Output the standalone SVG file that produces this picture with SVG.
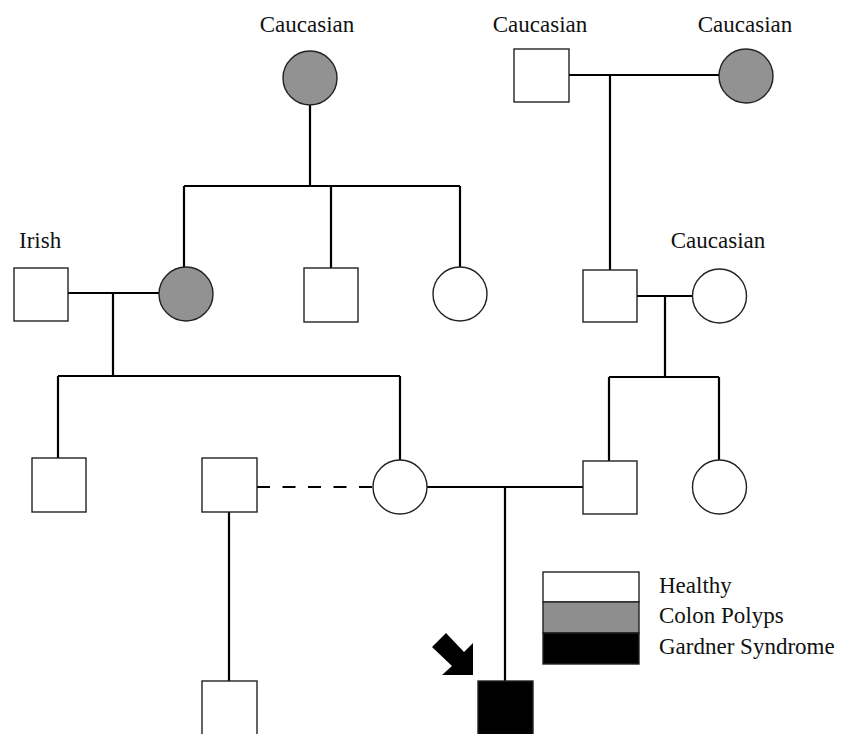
<svg xmlns="http://www.w3.org/2000/svg" width="847" height="734" viewBox="0 0 847 734">
<style>
.m{fill:#fff;stroke:#222;stroke-width:1.4}
.g{fill:#929292}
.k{fill:#000}
.ln{fill:none;stroke:#000;stroke-width:2.2}
.dash{stroke-dasharray:13 12.5}
text{font-family:"Liberation Serif","Times New Roman",serif;font-size:23px;fill:#111}
</style>
<rect width="847" height="734" fill="#fff"/>
<g id="connectors">
<path class="ln" d="M310 105V186M184 186H460M184 186V267M331 186V268M460 186V267"/>
<path class="ln" d="M569 75H719M610 75V270"/>
<path class="ln" d="M68 293H159M113 293V376M58 376H400M58 376V458M400 376V460"/>
<path class="ln" d="M637 296H693M665 296V377M609 377H719M609 377V461M719 377V460"/>
<path class="ln dash" d="M257 487H373"/>
<path class="ln" d="M427 487H583M505 487V681"/>
<path class="ln" d="M229 512V681"/>
</g>
<g id="n1"><circle class="m g" cx="310" cy="78" r="27"/><text x="307" y="32" text-anchor="middle">Caucasian</text></g>
<g id="n2"><rect class="m" x="514" y="49" width="55" height="53"/><text x="540" y="32" text-anchor="middle">Caucasian</text></g>
<g id="n3"><circle class="m g" cx="746" cy="76" r="27"/><text x="745" y="32" text-anchor="middle">Caucasian</text></g>
<g id="n4"><rect class="m" x="14" y="268" width="54" height="53"/><text x="19" y="248">Irish</text></g>
<g id="n5"><circle class="m g" cx="186" cy="294" r="27"/></g>
<g id="n6"><rect class="m" x="304" y="268" width="54" height="54"/></g>
<g id="n7"><circle class="m" cx="460" cy="294" r="27"/></g>
<g id="n8"><rect class="m" x="583" y="270" width="54" height="52"/></g>
<g id="n9"><circle class="m" cx="719.5" cy="296" r="27"/><text x="718" y="248" text-anchor="middle">Caucasian</text></g>
<g id="n10"><rect class="m" x="32" y="458" width="54" height="54"/></g>
<g id="n11"><rect class="m" x="202" y="458" width="55" height="54"/></g>
<g id="n12"><circle class="m" cx="400" cy="487" r="27"/></g>
<g id="n13"><rect class="m" x="583" y="461" width="54" height="53"/></g>
<g id="n14"><circle class="m" cx="719.5" cy="487" r="27"/></g>
<g id="n15"><rect class="m" x="202" y="681" width="55" height="60"/></g>
<g id="n16"><rect class="m k" x="478" y="681" width="55" height="60"/>
<polygon class="k" points="432,647 446,633 464,652 473,643 473,675 442,675 452,666"/></g>
<g id="legend">
<rect x="543" y="572" width="96" height="30" fill="#fff" stroke="#222" stroke-width="1.4"/>
<rect x="543" y="602" width="96" height="31" fill="#8e8e8e" stroke="#222" stroke-width="1.4"/>
<rect x="543" y="633" width="96" height="31" fill="#000" stroke="#222" stroke-width="1.4"/>
<text x="659" y="593">Healthy</text>
<text x="659" y="623">Colon Polyps</text>
<text x="659" y="654">Gardner Syndrome</text>
</g>
</svg>
